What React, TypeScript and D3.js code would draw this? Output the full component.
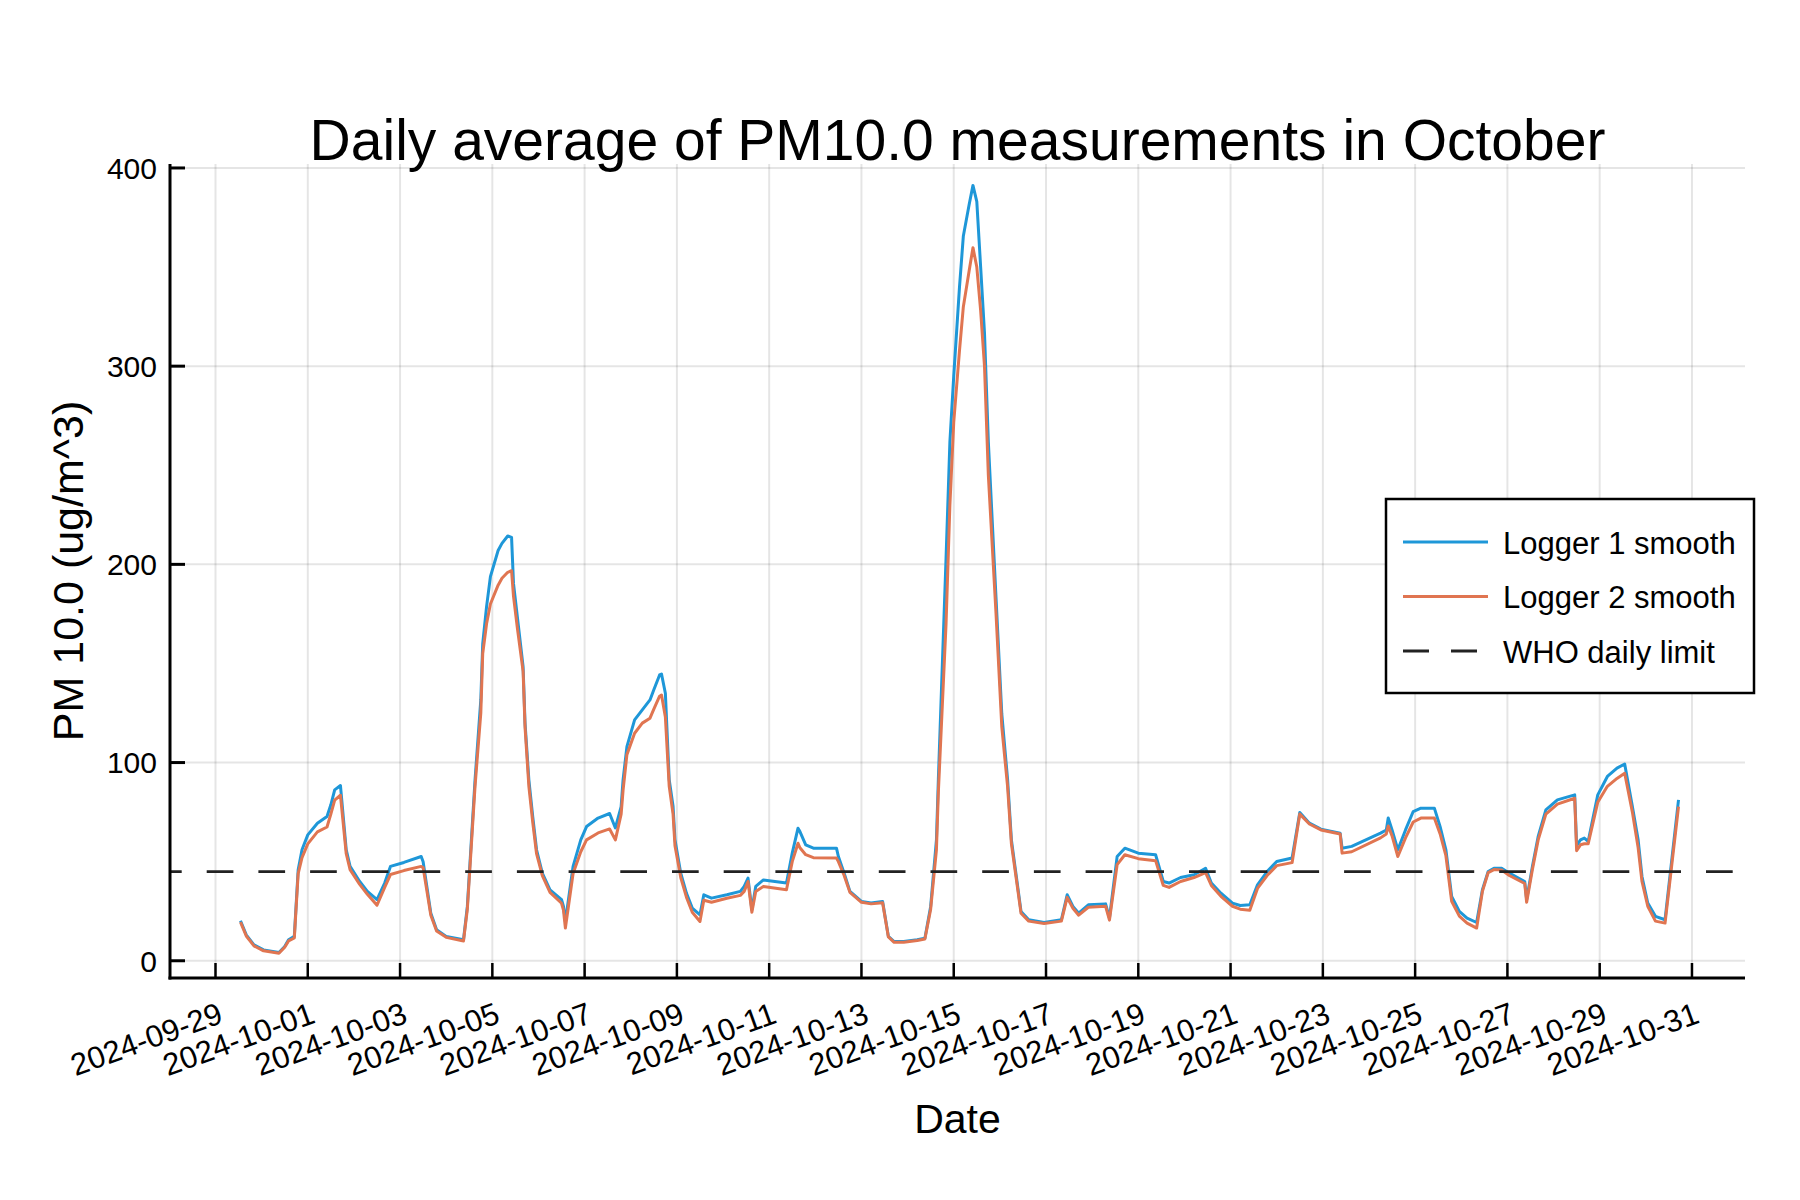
import React, { useEffect, useRef } from "react";
import * as d3 from "d3";

// sample times (UTC, hourly resolution) shared by both loggers
const times = [
  "2024-09-29T13", "2024-09-29T16", "2024-09-29T20", "2024-09-30T01", "2024-09-30T09",
  "2024-09-30T12", "2024-09-30T14", "2024-09-30T17", "2024-09-30T19", "2024-09-30T21",
  "2024-10-01T00", "2024-10-01T05", "2024-10-01T10", "2024-10-01T12", "2024-10-01T14",
  "2024-10-01T17", "2024-10-01T20", "2024-10-01T22", "2024-10-02T03", "2024-10-02T07",
  "2024-10-02T12", "2024-10-02T16", "2024-10-02T19", "2024-10-03T02", "2024-10-03T11",
  "2024-10-03T12", "2024-10-03T16", "2024-10-03T19", "2024-10-04T00", "2024-10-04T09",
  "2024-10-04T11", "2024-10-04T15", "2024-10-04T18", "2024-10-04T19", "2024-10-04T21",
  "2024-10-04T23", "2024-10-05T03", "2024-10-05T05", "2024-10-05T08", "2024-10-05T10",
  "2024-10-05T11", "2024-10-05T13", "2024-10-05T16", "2024-10-05T17", "2024-10-05T19",
  "2024-10-05T21", "2024-10-05T23", "2024-10-06T02", "2024-10-06T06", "2024-10-06T12",
  "2024-10-06T13", "2024-10-06T14", "2024-10-06T18", "2024-10-06T22", "2024-10-07T01",
  "2024-10-07T07", "2024-10-07T13", "2024-10-07T16", "2024-10-07T19", "2024-10-07T20",
  "2024-10-07T22", "2024-10-08T02", "2024-10-08T06", "2024-10-08T10", "2024-10-08T12",
  "2024-10-08T15", "2024-10-08T16", "2024-10-08T18", "2024-10-08T20", "2024-10-08T22",
  "2024-10-08T23", "2024-10-09T02", "2024-10-09T05", "2024-10-09T08", "2024-10-09T12",
  "2024-10-09T14", "2024-10-09T18", "2024-10-10T02", "2024-10-10T09", "2024-10-10T11",
  "2024-10-10T13", "2024-10-10T15", "2024-10-10T17", "2024-10-10T21", "2024-10-11T09",
  "2024-10-11T12", "2024-10-11T15", "2024-10-11T16", "2024-10-11T19", "2024-10-11T23",
  "2024-10-12T11", "2024-10-12T12", "2024-10-12T15", "2024-10-12T18", "2024-10-13T00",
  "2024-10-13T05", "2024-10-13T11", "2024-10-13T14", "2024-10-13T17", "2024-10-13T22",
  "2024-10-14T05", "2024-10-14T09", "2024-10-14T12", "2024-10-14T15", "2024-10-14T16",
  "2024-10-14T20", "2024-10-14T22", "2024-10-15T00", "2024-10-15T03", "2024-10-15T05",
  "2024-10-15T08", "2024-10-15T10", "2024-10-15T12", "2024-10-15T14", "2024-10-15T16",
  "2024-10-15T18", "2024-10-15T22", "2024-10-16T01", "2024-10-16T04", "2024-10-16T06",
  "2024-10-16T11", "2024-10-16T15", "2024-10-16T23", "2024-10-17T08", "2024-10-17T11",
  "2024-10-17T14", "2024-10-17T17", "2024-10-17T22", "2024-10-18T07", "2024-10-18T09",
  "2024-10-18T13", "2024-10-18T17", "2024-10-19T00", "2024-10-19T09", "2024-10-19T13",
  "2024-10-19T16", "2024-10-19T22", "2024-10-20T05", "2024-10-20T11", "2024-10-20T14",
  "2024-10-20T19", "2024-10-21T01", "2024-10-21T05", "2024-10-21T10", "2024-10-21T14",
  "2024-10-21T19", "2024-10-22T00", "2024-10-22T08", "2024-10-22T12", "2024-10-22T17",
  "2024-10-22T23", "2024-10-23T09", "2024-10-23T10", "2024-10-23T15", "2024-10-24T06",
  "2024-10-24T09", "2024-10-24T10", "2024-10-24T12", "2024-10-24T15", "2024-10-24T19",
  "2024-10-24T23", "2024-10-25T03", "2024-10-25T10", "2024-10-25T13", "2024-10-25T16",
  "2024-10-25T19", "2024-10-25T23", "2024-10-26T03", "2024-10-26T08", "2024-10-26T11",
  "2024-10-26T14", "2024-10-26T17", "2024-10-26T21", "2024-10-27T01", "2024-10-27T09",
  "2024-10-27T10", "2024-10-27T13", "2024-10-27T16", "2024-10-27T20", "2024-10-28T02",
  "2024-10-28T11", "2024-10-28T12", "2024-10-28T14", "2024-10-28T16", "2024-10-28T18",
  "2024-10-28T23", "2024-10-29T04", "2024-10-29T09", "2024-10-29T13", "2024-10-29T17",
  "2024-10-29T20", "2024-10-29T22", "2024-10-30T01", "2024-10-30T05", "2024-10-30T10",
  "2024-10-30T17",
];

// Logger 1 smooth, ug/m^3
const logger1 = [
  20.2, 13.1, 8, 5.5, 4.2, 7.2, 10.6, 12.3, 45.9, 56,
  63.5, 69.4, 72.8, 78.7, 86.2, 88.4, 56, 47.6, 40, 35,
  30.8, 39.2, 47.6, 49.6, 52.6, 50, 24, 15.6, 12.3, 10.6,
  27.4, 91.3, 131.6, 160, 178.7, 193.8, 207, 210.6, 214.3, 213.6,
  190.4, 173.6, 148.4, 120, 91.3, 72.8, 56, 44.2, 35.8, 30.8,
  27.4, 19.8, 47.6, 61, 67.7, 72, 74.3, 67, 77.8, 91.3,
  108, 121.5, 126.6, 131.6, 136.7, 144.2, 144.7, 135, 91.3, 78,
  61, 44.2, 34, 26.6, 23.2, 33.3, 31.6, 33.3, 35, 37.5,
  41.7, 25.7, 37.5, 40.8, 39.2, 54.3, 66.9, 65.2, 58.5, 56.8,
  56.8, 52.6, 44.2, 35, 29.9, 29.1, 29.9, 12.3, 9.7, 9.7,
  10.6, 11.4, 27.4, 61, 91.6, 203, 261.8, 295, 340, 365.7,
  381.4, 391.2, 383, 350, 316.7, 261.8, 183, 124.5, 91.6, 61,
  24.9, 20.7, 19.3, 20.7, 33.3, 27.4, 24, 28.2, 28.7, 21.5,
  52.6, 56.8, 54.3, 53.5, 40, 39.2, 42, 43.4, 46.7, 39.2,
  34.1, 29.1, 27.9, 28.2, 38.3, 45, 50.1, 51.8, 74.8, 69.4,
  66.4, 64.4, 56.8, 57.7, 64.4, 66, 72, 66, 56, 66,
  75.3, 77, 77, 67.7, 56, 32.4, 24.9, 21.5, 19.3, 35.8,
  45, 46.7, 46.7, 44.2, 40, 30.8, 47.6, 62.7, 76.1, 81.2,
  83.7, 58, 61, 61.9, 60.2, 83.7, 93, 97.2, 99.3, 77.8,
  61, 42.5, 29.1, 22.4, 20.7, 81.2,
];

// Logger 2 smooth, ug/m^3
const logger2 = [
  19.5, 12.5, 7.5, 5, 3.8, 6.8, 10, 11.5, 44, 52,
  59, 65, 67.5, 74, 81, 83.5, 54, 46, 38.5, 33.5,
  28, 37, 43.5, 45.5, 47.6, 47, 23, 15, 11.8, 10,
  26, 88, 125, 155, 170, 180, 189.5, 193, 196, 196.8,
  184, 168, 146, 118, 88, 70, 54, 43, 34.5, 29,
  25.5, 16.5, 44, 55, 61, 64.5, 66.5, 61, 74, 86,
  104, 114.8, 119.9, 122.4, 127, 133.5, 134.1, 123, 88, 74,
  58, 42, 32, 24.5, 19.8, 30.5, 29.5, 31.5, 33, 35,
  40, 24.5, 35, 37.5, 35.8, 50, 59.3, 57, 53.5, 52,
  51.8, 50, 43, 34.5, 29.5, 28.7, 29.3, 12, 9.3, 9.3,
  10.2, 11, 26, 56, 85, 170, 230, 271.6, 308, 330,
  348, 359.8, 350, 328, 300, 245, 175, 118, 88, 59,
  24, 20, 18.8, 20, 32, 26.5, 23, 27, 27.5, 20.5,
  48.5, 53.5, 51.5, 50.5, 38, 37, 40, 42, 44.5, 38,
  32.5, 27.5, 26, 25.5, 36.5, 43, 48, 49.5, 74, 69,
  66, 64, 54.3, 55, 62, 64, 68, 63, 52.6, 62,
  70, 72, 72, 64, 53, 30, 22.5, 19, 16.5, 35,
  44.5, 46, 45.8, 43, 39, 29.5, 46, 61, 74, 79,
  82, 55.5, 58.5, 59, 59, 80, 88, 92, 94.6, 75,
  57, 40, 27.5, 20, 19, 77.8,
];

const whoLimit = 45;
const yTicks = [0, 100, 200, 300, 400];
const xTickLabels = [
  "2024-09-29", "2024-10-01", "2024-10-03", "2024-10-05", "2024-10-07",
  "2024-10-09", "2024-10-11", "2024-10-13", "2024-10-15", "2024-10-17",
  "2024-10-19", "2024-10-21", "2024-10-23", "2024-10-25", "2024-10-27",
  "2024-10-29", "2024-10-31",
];
const xLimits = ["2024-09-28T00:20", "2024-11-01T03:35"];
const yLimits = [-8.7, 402];
const legendLabels = ["Logger 1 smooth", "Logger 2 smooth", "WHO daily limit"];

const FONT = "'Liberation Sans', Arial, Helvetica, sans-serif";
const BLUE = "#1e97d8";
const ORANGE = "#e07551";

const App = () => {
  const svgRef = useRef<SVGSVGElement>(null);

  useEffect(() => {
    const width = 1800,
      height = 1200,
      left = 170,
      right = 1745,
      top = 164,
      bottom = 978;

    const svg = d3.select(svgRef.current);
    svg.selectChildren().remove();
    svg.attr("width", width).attr("height", height);

    svg
      .append("rect")
      .attr("width", width)
      .attr("height", height)
      .attr("fill", "#ffffff");

    const parseT = d3.utcParse("%Y-%m-%dT%H");
    const parseLim = d3.utcParse("%Y-%m-%dT%H:%M");
    const parseDay = d3.utcParse("%Y-%m-%d");

    const x = d3
      .scaleUtc()
      .domain(xLimits.map((s) => parseLim(s) as Date))
      .range([left, right]);
    const y = d3.scaleLinear().domain(yLimits).range([bottom, top]);

    const tickDates = xTickLabels.map((s) => parseDay(s) as Date);

    // grid
    const grid = svg.append("g").attr("stroke", "#000").attr("stroke-opacity", 0.1).attr("stroke-width", 2);
    grid
      .selectAll("line.v")
      .data(tickDates)
      .enter()
      .append("line")
      .attr("x1", (d) => x(d))
      .attr("x2", (d) => x(d))
      .attr("y1", top)
      .attr("y2", bottom);
    grid
      .selectAll("line.h")
      .data(yTicks)
      .enter()
      .append("line")
      .attr("x1", left)
      .attr("x2", right)
      .attr("y1", (d) => y(d))
      .attr("y2", (d) => y(d));

    // series
    const series = [
      { values: logger1, color: BLUE },
      { values: logger2, color: ORANGE },
    ];
    const points = times.map((t) => parseT(t) as Date);
    const line = d3
      .line<number>()
      .x((_, i) => x(points[i]))
      .y((d) => y(d));

    series.forEach((s) => {
      svg
        .append("path")
        .datum(s.values)
        .attr("d", line)
        .attr("fill", "none")
        .attr("stroke", s.color)
        .attr("stroke-width", 3)
        .attr("stroke-linejoin", "round");
    });

    // WHO limit
    svg
      .append("line")
      .attr("x1", left)
      .attr("x2", right)
      .attr("y1", y(whoLimit))
      .attr("y2", y(whoLimit))
      .attr("stroke", "#222")
      .attr("stroke-width", 2.8)
      .attr("stroke-dasharray", "26.7 25")
      .attr("stroke-dashoffset", 15);

    // axes
    const axes = svg.append("g").attr("stroke", "#000");
    axes
      .append("line")
      .attr("x1", left)
      .attr("x2", left)
      .attr("y1", top)
      .attr("y2", bottom + 1.5)
      .attr("stroke-width", 3);
    axes
      .append("line")
      .attr("x1", left - 1.5)
      .attr("x2", right)
      .attr("y1", bottom)
      .attr("y2", bottom)
      .attr("stroke-width", 3);
    axes
      .selectAll("line.yt")
      .data(yTicks)
      .enter()
      .append("line")
      .attr("x1", left)
      .attr("x2", left + 15)
      .attr("y1", (d) => y(d))
      .attr("y2", (d) => y(d))
      .attr("stroke-width", 3);
    axes
      .selectAll("line.xt")
      .data(tickDates)
      .enter()
      .append("line")
      .attr("x1", (d) => x(d))
      .attr("x2", (d) => x(d))
      .attr("y1", bottom)
      .attr("y2", bottom - 15)
      .attr("stroke-width", 2.5);

    // tick labels
    svg
      .append("g")
      .selectAll("text")
      .data(yTicks)
      .enter()
      .append("text")
      .attr("x", left - 13)
      .attr("y", (d) => y(d))
      .attr("dy", "0.36em")
      .attr("text-anchor", "end")
      .attr("font-family", FONT)
      .attr("font-size", 30)
      .text((d) => d);

    svg
      .append("g")
      .selectAll("text")
      .data(tickDates)
      .enter()
      .append("text")
      .attr("transform", (d) => `translate(${x(d) + 9}, ${bottom + 44}) rotate(-20)`)
      .attr("text-anchor", "end")
      .attr("font-family", FONT)
      .attr("font-size", 31)
      .text((_, i) => xTickLabels[i]);

    // titles
    svg
      .append("text")
      .attr("x", (left + right) / 2)
      .attr("y", 160)
      .attr("text-anchor", "middle")
      .attr("font-family", FONT)
      .attr("font-size", 57)
      .text("Daily average of PM10.0 measurements in October");

    svg
      .append("text")
      .attr("x", (left + right) / 2)
      .attr("y", 1133)
      .attr("text-anchor", "middle")
      .attr("font-family", FONT)
      .attr("font-size", 41)
      .text("Date");

    svg
      .append("text")
      .attr("transform", `translate(83, ${(top + bottom) / 2}) rotate(-90)`)
      .attr("text-anchor", "middle")
      .attr("font-family", FONT)
      .attr("font-size", 43)
      .text("PM 10.0 (ug/m^3)");

    // legend
    const legend = svg.append("g").attr("transform", "translate(1386, 499)");
    legend
      .append("rect")
      .attr("width", 368)
      .attr("height", 194)
      .attr("fill", "#fff")
      .attr("stroke", "#000")
      .attr("stroke-width", 2.5);
    const rows = [
      { color: BLUE, dash: null as string | null },
      { color: ORANGE, dash: null as string | null },
      { color: "#222", dash: "26 22" },
    ];
    rows.forEach((r, i) => {
      const cy = 43 + i * 54.5;
      legend
        .append("line")
        .attr("x1", 17)
        .attr("x2", 102)
        .attr("y1", cy)
        .attr("y2", cy)
        .attr("stroke", r.color)
        .attr("stroke-width", r.dash ? 2.8 : 3)
        .attr("stroke-dasharray", r.dash);
      legend
        .append("text")
        .attr("x", 117)
        .attr("y", cy + 11.5)
        .attr("font-family", FONT)
        .attr("font-size", 31)
        .text(legendLabels[i]);
    });
  }, []);

  return (
    <div style={{ position: "absolute", left: 0, top: 0 }}>
      <svg xmlns="http://www.w3.org/2000/svg" ref={svgRef} />
    </div>
  );
};

export default App;
